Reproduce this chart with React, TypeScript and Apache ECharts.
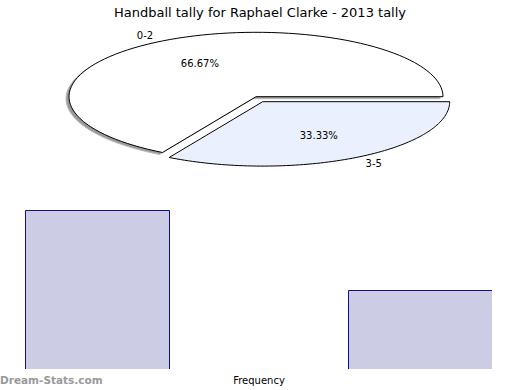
import React, { useEffect, useRef } from "react";
import * as echarts from "echarts";

const titleText = "Handball tally for Raphael Clarke - 2013 tally";
const sliceNames = ["0-2", "3-5"];
const sliceValues = [2, 1];
const barCategories = ["0-2", "3-5"];
const barValues = [2, 1];
const axisName = "Frequency";
const watermark = "Dream-Stats.com";

const sliceFills = ["#ffffff", "#eaf0fd"];

export default function App() {
  const ref = useRef<HTMLDivElement>(null);
  useEffect(() => {
    if (!ref.current) return;
    document.body.style.margin = "0";
    const chart = echarts.init(ref.current, undefined, { renderer: "svg" });
    const total = sliceValues.reduce((a, b) => a + b, 0);
    const cx = 256;
    const cy = 96.7;
    const rx = 187;
    const ry = 64.4;
    const font = '10px "DejaVu Sans"';

    const renderItem = (params: any, api: any) => {
      const i = params.dataIndex;
      let cum = 0;
      for (let k = 0; k < i; k++) cum += sliceValues[k];
      const v = api.value(0);
      const a0 = (cum / total) * Math.PI * 2;
      const a1 = ((cum + v) / total) * Math.PI * 2;
      const ox = i === 1 ? 6.7 : 0;
      const oy = i === 1 ? 5 : 0;
      const x0 = cx + ox;
      const y0 = cy + oy;
      const pts = (dx: number, dy: number) => {
        const p: number[][] = [[x0 + dx, y0 + dy]];
        const n = 90;
        for (let s = 0; s <= n; s++) {
          const a = a0 + ((a1 - a0) * s) / n;
          p.push([x0 + dx + rx * Math.cos(a), y0 + dy - ry * Math.sin(a)]);
        }
        return p;
      };
      const mid = (a0 + a1) / 2;
      const children: any[] = [];
      if (i === 0) {
        children.push({
          type: "polygon",
          shape: { points: pts(-3, 2) },
          style: { fill: "#9a9a9a", stroke: "#bbbbbb", lineWidth: 1 },
        });
      }
      children.push({
        type: "polygon",
        shape: { points: pts(0, 0) },
        style: { fill: sliceFills[i], stroke: "#000000", lineWidth: 1 },
      });
      children.push({
        type: "text",
        x: x0 + rx * 0.6 * Math.cos(mid),
        y: y0 - ry * 0.6 * Math.sin(mid),
        style: {
          text: ((v / total) * 100).toFixed(2) + "%",
          fill: "#000",
          font,
          align: "center",
          verticalAlign: "middle",
        },
      });
      children.push({
        type: "text",
        x: x0 + rx * 1.1 * Math.cos(mid),
        y: y0 - ry * 1.1 * Math.sin(mid),
        style: {
          text: sliceNames[i],
          fill: "#000",
          font,
          align: Math.cos(mid) >= 0 ? "left" : "right",
          verticalAlign: "middle",
        },
      });
      return { type: "group", children };
    };

    chart.setOption({
      animation: false,
      backgroundColor: "#ffffff",
      title: {
        text: titleText,
        left: "center",
        top: 1,
        textStyle: {
          fontFamily: "DejaVu Sans",
          fontSize: 13,
          fontWeight: "normal",
          color: "#000",
        },
      },
      grid: {
        left: -64,
        width: 646,
        top: 210,
        height: 160,
        outerBoundsMode: "none",
        containLabel: false,
      },
      xAxis: {
        type: "category",
        data: barCategories,
        axisLine: { show: false },
        axisTick: { show: false },
        axisLabel: { show: false },
        name: axisName,
        nameLocation: "middle",
        nameGap: 5,
        nameTextStyle: { fontFamily: "DejaVu Sans", fontSize: 10, color: "#000" },
      },
      yAxis: {
        type: "value",
        min: 0,
        max: 2,
        show: false,
        splitLine: { show: false },
      },
      series: [
        {
          type: "bar",
          data: barValues,
          barWidth: 145,
          itemStyle: { color: "#ccccE5", borderColor: "#10108c", borderWidth: 1 },
        },
        {
          type: "custom",
          coordinateSystem: "none",
          renderItem,
          data: sliceValues.map((v, i) => ({ name: sliceNames[i], value: [v] })),
        },
      ],
      graphic: [
        {
          type: "rect",
          left: 492,
          top: 280,
          shape: { width: 30, height: 95 },
          style: { fill: "#ffffff" },
          z: 100,
        },
        {
          type: "rect",
          left: 0,
          top: 369,
          shape: { width: 520, height: 3 },
          style: { fill: "#ffffff" },
          z: 100,
        },
        {
          type: "text",
          left: 0,
          top: 374,
          style: {
            text: watermark,
            fill: "#999999",
            font: 'bold 10.5px "DejaVu Sans"',
          },
          z: 101,
        },
      ],
    });
    return () => chart.dispose();
  }, []);
  return <div ref={ref} style={{ width: 520, height: 390 }} />;
}
